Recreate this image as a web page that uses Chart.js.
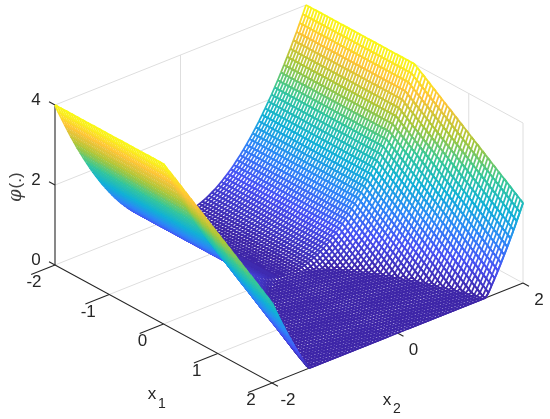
<!DOCTYPE html>
<html><head><meta charset="utf-8">
<style>html,body{margin:0;padding:0;background:#fff}canvas{display:block}</style>
<script src="https://cdn.jsdelivr.net/npm/chart.js@4"></script>
</head><body><canvas id="c" width="550" height="419"></canvas>
<script>
// grid positions (non-negative half, mirrored for the negative side)
const gridHalf=[0,.05,.1,.15,.2,.25,.3,.35,.4,.45,.5,.55,.6,.65,.7,.75,.8,.85,.9,.95,1,1.05,1.1,1.15,1.2,1.25,1.3,1.35,1.4,1.45,1.5,1.55,1.6,1.65,1.7,1.75,1.8,1.85,1.9,1.95,2];
const x1Ticks=[-2,-1,0,1,2], x2Ticks=[-2,0,2], zTicks=[0,2,4];
const x1TickLabels=["-2","-1","0","1","2"], x2TickLabels=["-2","0","2"], zTickLabels=["0","2","4"];
// phi: one row per x1 >= 0 (x1 <= 0 repeats the first row), columns |x2| = 0..2
const z00=[0,0,.01,.02,.04,.06,.09,.12,.16,.2,.25,.3,.36,.42,.49,.56,.64,.72,.81,.9,1,1.1,1.21,1.32,1.44,1.56,1.69,1.82,1.96,2.1,2.25,2.4,2.56,2.72,2.89,3.06,3.24,3.42,3.61,3.8,4];
const z01=[0,0,0,0,0,.01,.04,.07,.11,.15,.2,.25,.31,.37,.44,.51,.59,.67,.76,.85,.95,1.05,1.16,1.27,1.39,1.51,1.64,1.77,1.91,2.05,2.2,2.35,2.51,2.67,2.84,3.01,3.19,3.37,3.56,3.75,3.95];
const z02=[0,0,0,0,0,0,0,.02,.06,.1,.15,.2,.26,.32,.39,.46,.54,.62,.71,.8,.9,1,1.11,1.22,1.34,1.46,1.59,1.72,1.86,2,2.15,2.3,2.46,2.62,2.79,2.96,3.14,3.32,3.51,3.7,3.9];
const z03=[0,0,0,0,0,0,0,0,.01,.05,.1,.15,.21,.27,.34,.41,.49,.57,.66,.75,.85,.95,1.06,1.17,1.29,1.41,1.54,1.67,1.81,1.95,2.1,2.25,2.41,2.57,2.74,2.91,3.09,3.27,3.46,3.65,3.85];
const z04=[0,0,0,0,0,0,0,0,0,0,.05,.1,.16,.22,.29,.36,.44,.52,.61,.7,.8,.9,1.01,1.12,1.24,1.36,1.49,1.62,1.76,1.9,2.05,2.2,2.36,2.52,2.69,2.86,3.04,3.22,3.41,3.6,3.8];
const z05=[0,0,0,0,0,0,0,0,0,0,0,.05,.11,.17,.24,.31,.39,.47,.56,.65,.75,.85,.96,1.07,1.19,1.31,1.44,1.57,1.71,1.85,2,2.15,2.31,2.47,2.64,2.81,2.99,3.17,3.36,3.55,3.75];
const z06=[0,0,0,0,0,0,0,0,0,0,0,0,.06,.12,.19,.26,.34,.42,.51,.6,.7,.8,.91,1.02,1.14,1.26,1.39,1.52,1.66,1.8,1.95,2.1,2.26,2.42,2.59,2.76,2.94,3.12,3.31,3.5,3.7];
const z07=[0,0,0,0,0,0,0,0,0,0,0,0,.01,.07,.14,.21,.29,.37,.46,.55,.65,.75,.86,.97,1.09,1.21,1.34,1.47,1.61,1.75,1.9,2.05,2.21,2.37,2.54,2.71,2.89,3.07,3.26,3.45,3.65];
const z08=[0,0,0,0,0,0,0,0,0,0,0,0,0,.02,.09,.16,.24,.32,.41,.5,.6,.7,.81,.92,1.04,1.16,1.29,1.42,1.56,1.7,1.85,2,2.16,2.32,2.49,2.66,2.84,3.02,3.21,3.4,3.6];
const z09=[0,0,0,0,0,0,0,0,0,0,0,0,0,0,.04,.11,.19,.27,.36,.45,.55,.65,.76,.87,.99,1.11,1.24,1.37,1.51,1.65,1.8,1.95,2.11,2.27,2.44,2.61,2.79,2.97,3.16,3.35,3.55];
const z10=[0,0,0,0,0,0,0,0,0,0,0,0,0,0,0,.06,.14,.22,.31,.4,.5,.6,.71,.82,.94,1.06,1.19,1.32,1.46,1.6,1.75,1.9,2.06,2.22,2.39,2.56,2.74,2.92,3.11,3.3,3.5];
const z11=[0,0,0,0,0,0,0,0,0,0,0,0,0,0,0,.01,.09,.17,.26,.35,.45,.55,.66,.77,.89,1.01,1.14,1.27,1.41,1.55,1.7,1.85,2.01,2.17,2.34,2.51,2.69,2.87,3.06,3.25,3.45];
const z12=[0,0,0,0,0,0,0,0,0,0,0,0,0,0,0,0,.04,.12,.21,.3,.4,.5,.61,.72,.84,.96,1.09,1.22,1.36,1.5,1.65,1.8,1.96,2.12,2.29,2.46,2.64,2.82,3.01,3.2,3.4];
const z13=[0,0,0,0,0,0,0,0,0,0,0,0,0,0,0,0,0,.07,.16,.25,.35,.45,.56,.67,.79,.91,1.04,1.17,1.31,1.45,1.6,1.75,1.91,2.07,2.24,2.41,2.59,2.77,2.96,3.15,3.35];
const z14=[0,0,0,0,0,0,0,0,0,0,0,0,0,0,0,0,0,.02,.11,.2,.3,.4,.51,.62,.74,.86,.99,1.12,1.26,1.4,1.55,1.7,1.86,2.02,2.19,2.36,2.54,2.72,2.91,3.1,3.3];
const z15=[0,0,0,0,0,0,0,0,0,0,0,0,0,0,0,0,0,0,.06,.15,.25,.35,.46,.57,.69,.81,.94,1.07,1.21,1.35,1.5,1.65,1.81,1.97,2.14,2.31,2.49,2.67,2.86,3.05,3.25];
const z16=[0,0,0,0,0,0,0,0,0,0,0,0,0,0,0,0,0,0,.01,.1,.2,.3,.41,.52,.64,.76,.89,1.02,1.16,1.3,1.45,1.6,1.76,1.92,2.09,2.26,2.44,2.62,2.81,3,3.2];
const z17=[0,0,0,0,0,0,0,0,0,0,0,0,0,0,0,0,0,0,0,.05,.15,.25,.36,.47,.59,.71,.84,.97,1.11,1.25,1.4,1.55,1.71,1.87,2.04,2.21,2.39,2.57,2.76,2.95,3.15];
const z18=[0,0,0,0,0,0,0,0,0,0,0,0,0,0,0,0,0,0,0,0,.1,.2,.31,.42,.54,.66,.79,.92,1.06,1.2,1.35,1.5,1.66,1.82,1.99,2.16,2.34,2.52,2.71,2.9,3.1];
const z19=[0,0,0,0,0,0,0,0,0,0,0,0,0,0,0,0,0,0,0,0,.05,.15,.26,.37,.49,.61,.74,.87,1.01,1.15,1.3,1.45,1.61,1.77,1.94,2.11,2.29,2.47,2.66,2.85,3.05];
const z20=[0,0,0,0,0,0,0,0,0,0,0,0,0,0,0,0,0,0,0,0,0,.1,.21,.32,.44,.56,.69,.82,.96,1.1,1.25,1.4,1.56,1.72,1.89,2.06,2.24,2.42,2.61,2.8,3];
const z21=[0,0,0,0,0,0,0,0,0,0,0,0,0,0,0,0,0,0,0,0,0,.05,.16,.27,.39,.51,.64,.77,.91,1.05,1.2,1.35,1.51,1.67,1.84,2.01,2.19,2.37,2.56,2.75,2.95];
const z22=[0,0,0,0,0,0,0,0,0,0,0,0,0,0,0,0,0,0,0,0,0,0,.11,.22,.34,.46,.59,.72,.86,1,1.15,1.3,1.46,1.62,1.79,1.96,2.14,2.32,2.51,2.7,2.9];
const z23=[0,0,0,0,0,0,0,0,0,0,0,0,0,0,0,0,0,0,0,0,0,0,.06,.17,.29,.41,.54,.67,.81,.95,1.1,1.25,1.41,1.57,1.74,1.91,2.09,2.27,2.46,2.65,2.85];
const z24=[0,0,0,0,0,0,0,0,0,0,0,0,0,0,0,0,0,0,0,0,0,0,.01,.12,.24,.36,.49,.62,.76,.9,1.05,1.2,1.36,1.52,1.69,1.86,2.04,2.22,2.41,2.6,2.8];
const z25=[0,0,0,0,0,0,0,0,0,0,0,0,0,0,0,0,0,0,0,0,0,0,0,.07,.19,.31,.44,.57,.71,.85,1,1.15,1.31,1.47,1.64,1.81,1.99,2.17,2.36,2.55,2.75];
const z26=[0,0,0,0,0,0,0,0,0,0,0,0,0,0,0,0,0,0,0,0,0,0,0,.02,.14,.26,.39,.52,.66,.8,.95,1.1,1.26,1.42,1.59,1.76,1.94,2.12,2.31,2.5,2.7];
const z27=[0,0,0,0,0,0,0,0,0,0,0,0,0,0,0,0,0,0,0,0,0,0,0,0,.09,.21,.34,.47,.61,.75,.9,1.05,1.21,1.37,1.54,1.71,1.89,2.07,2.26,2.45,2.65];
const z28=[0,0,0,0,0,0,0,0,0,0,0,0,0,0,0,0,0,0,0,0,0,0,0,0,.04,.16,.29,.42,.56,.7,.85,1,1.16,1.32,1.49,1.66,1.84,2.02,2.21,2.4,2.6];
const z29=[0,0,0,0,0,0,0,0,0,0,0,0,0,0,0,0,0,0,0,0,0,0,0,0,0,.11,.24,.37,.51,.65,.8,.95,1.11,1.27,1.44,1.61,1.79,1.97,2.16,2.35,2.55];
const z30=[0,0,0,0,0,0,0,0,0,0,0,0,0,0,0,0,0,0,0,0,0,0,0,0,0,.06,.19,.32,.46,.6,.75,.9,1.06,1.22,1.39,1.56,1.74,1.92,2.11,2.3,2.5];
const z31=[0,0,0,0,0,0,0,0,0,0,0,0,0,0,0,0,0,0,0,0,0,0,0,0,0,.01,.14,.27,.41,.55,.7,.85,1.01,1.17,1.34,1.51,1.69,1.87,2.06,2.25,2.45];
const z32=[0,0,0,0,0,0,0,0,0,0,0,0,0,0,0,0,0,0,0,0,0,0,0,0,0,0,.09,.22,.36,.5,.65,.8,.96,1.12,1.29,1.46,1.64,1.82,2.01,2.2,2.4];
const z33=[0,0,0,0,0,0,0,0,0,0,0,0,0,0,0,0,0,0,0,0,0,0,0,0,0,0,.04,.17,.31,.45,.6,.75,.91,1.07,1.24,1.41,1.59,1.77,1.96,2.15,2.35];
const z34=[0,0,0,0,0,0,0,0,0,0,0,0,0,0,0,0,0,0,0,0,0,0,0,0,0,0,0,.12,.26,.4,.55,.7,.86,1.02,1.19,1.36,1.54,1.72,1.91,2.1,2.3];
const z35=[0,0,0,0,0,0,0,0,0,0,0,0,0,0,0,0,0,0,0,0,0,0,0,0,0,0,0,.07,.21,.35,.5,.65,.81,.97,1.14,1.31,1.49,1.67,1.86,2.05,2.25];
const z36=[0,0,0,0,0,0,0,0,0,0,0,0,0,0,0,0,0,0,0,0,0,0,0,0,0,0,0,.02,.16,.3,.45,.6,.76,.92,1.09,1.26,1.44,1.62,1.81,2,2.2];
const z37=[0,0,0,0,0,0,0,0,0,0,0,0,0,0,0,0,0,0,0,0,0,0,0,0,0,0,0,0,.11,.25,.4,.55,.71,.87,1.04,1.21,1.39,1.57,1.76,1.95,2.15];
const z38=[0,0,0,0,0,0,0,0,0,0,0,0,0,0,0,0,0,0,0,0,0,0,0,0,0,0,0,0,.06,.2,.35,.5,.66,.82,.99,1.16,1.34,1.52,1.71,1.9,2.1];
const z39=[0,0,0,0,0,0,0,0,0,0,0,0,0,0,0,0,0,0,0,0,0,0,0,0,0,0,0,0,.01,.15,.3,.45,.61,.77,.94,1.11,1.29,1.47,1.66,1.85,2.05];
const z40=[0,0,0,0,0,0,0,0,0,0,0,0,0,0,0,0,0,0,0,0,0,0,0,0,0,0,0,0,0,.1,.25,.4,.56,.72,.89,1.06,1.24,1.42,1.61,1.8,2];
const zRows=[z00,z01,z02,z03,z04,z05,z06,z07,z08,z09,z10,z11,z12,z13,z14,z15,z16,z17,z18,z19,z20,z21,z22,z23,z24,z25,z26,z27,z28,z29,z30,z31,z32,z33,z34,z35,z36,z37,z38,z39,z40];

// view: orthographic projection of (x1,x2,z) onto the page
function P(x1,x2,z){return {x:289+54.25*x1+62.75*x2, y:274+29.5*x1-25*x2-40*z, z:z};}

// parula colour map
const parula=[[62,38,168],[72,82,244],[46,135,247],[18,177,214],[55,200,151],[171,199,57],[254,195,56],[249,251,21]];
const palette=[];
for(let i=0;i<64;i++){const t=i/63*7,a=Math.min(6,Math.floor(t)),f=t-a;
  palette.push('rgb('+parula[a].map((c,k)=>Math.round(c+(parula[a+1][k]-c)*f)).join(',')+')');}
const zColor=z=>palette[Math.max(0,Math.min(63,Math.round(z/4*63)))];

// full mesh nodes
const N=81;
const sgn=i=>i<40?-gridHalf[40-i]:gridHalf[i-40];
const node=(i,j)=>P(sgn(i),sgn(j),zRows[Math.max(0,i-40)][Math.abs(j-40)]);

const seq=[];
const GRID='#dedede',AXIS='#262626';
function seg(pts,color,w){seq.push({data:pts,showLine:true,borderColor:color,borderWidth:w,pointRadius:0,fill:false,borderDash:[100000],borderCapStyle:'butt'});}
// back walls and floor grid
seg([P(-2,-2,4),P(-2,2,4),P(2,2,4),P(2,2,0)],GRID,1);
seg([P(-2,2,4),P(-2,2,0)],GRID,1);
seg([P(-2,-2,0),P(-2,2,0),P(2,2,0)],GRID,1);
seg([P(-2,-2,2),P(-2,2,2),P(2,2,2)],GRID,1);
x2Ticks.slice(1,2).forEach(t=>{seg([P(-2,t,4),P(-2,t,0),P(2,t,0)],GRID,1);});
x1Ticks.slice(1,4).forEach(t=>{seg([P(t,2,4),P(t,2,0),P(t,-2,0)],GRID,1);});
// axes and ticks
seg([P(-2,-2,4),P(-2,-2,0)],AXIS,1.1);
seg([P(-2,-2,0),P(2,-2,0),P(2,2,0)],AXIS,1.1);
x1Ticks.forEach(t=>seg([P(t,-2,0),P(t,-2.38,0)],AXIS,1.1));
x2Ticks.forEach(t=>seg([P(2,t,0),P(2.11,t,0)],AXIS,1.1));
zTicks.forEach(t=>seg([P(-2,-2,t),P(-2.11,-2,t)],AXIS,1.1));
// mesh strips, far side (x2=2) to near side (x2=-2)
for(let j=N-2;j>=0;j--){
  const poly=[];
  for(let i=0;i<N;i++)poly.push(node(i,j));
  for(let i=N-1;i>=0;i--)poly.push(node(i,j+1));
  seq.push({data:poly,showLine:true,borderWidth:0,pointRadius:0,backgroundColor:'#fff',fill:'shape',borderDash:[100000]});
  const path=[];
  for(let i=0;i<N;i++)path.push(node(i,j));
  for(let i=N-1;i>=0;i--)path.push(node(i,j+1));
  for(let i=0;i<N;i++){
    if(i%2===0){path.push(node(i,j+1));path.push(node(i,j));}
    else{path.push(node(i,j));path.push(node(i,j+1));}
  }
  seq.push({data:path,showLine:true,borderWidth:1.8,pointRadius:0,fill:false,borderColor:palette[0],borderDash:[100000],borderJoinStyle:'bevel',
    segment:{borderColor:c=>{const d=c.chart.data.datasets[c.datasetIndex].data;return zColor((d[c.p0DataIndex].z+d[c.p1DataIndex].z)/2);}}});
}
// Chart.js paints high "order" first
seq.forEach((d,k)=>{d.order=seq.length-k;d.parsing=false;});

const labels={id:'labels3d',afterDatasetsDraw(ch){
  const c=ch.ctx,sx=ch.scales.x,sy=ch.scales.y;
  const put=(t,px,py,font)=>{c.font=font;c.fillText(t,sx.getPixelForValue(px),sy.getPixelForValue(py));};
  c.save();c.textAlign='center';c.textBaseline='middle';c.fillStyle='#262626';
  const F='17px "Liberation Sans"',S='14px "Liberation Sans"';
  x1Ticks.forEach((t,k)=>{const p=P(t,-2,0);put(x1TickLabels[k],p.x-21,p.y+17.5,F);});
  x2Ticks.forEach((t,k)=>{const p=P(2,t,0);put(x2TickLabels[k],p.x+16,p.y+17,F);});
  zTicks.forEach((t,k)=>{const p=P(-2,-2,t);put(zTickLabels[k],p.x-19,p.y-4.5,F);});
  put('x',152,394,F);put('1',162,404,S);
  put('x',387,400,F);put('2',397,409,S);
  c.translate(sx.getPixelForValue(16),sy.getPixelForValue(187));c.rotate(-Math.PI/2);
  c.textAlign='left';c.fillStyle='#404040';
  c.font='italic 18px "DejaVu Serif"';c.fillText('\u03C6',-15,0);
  const w=c.measureText('\u03C6').width;
  c.font='17px "Liberation Sans"';c.fillText('(.)',-15+w+1,0);
  c.restore();
}};

new Chart(document.getElementById('c'),{
  type:'scatter',
  data:{datasets:seq},
  plugins:[labels],
  options:{responsive:false,animation:false,events:[],layout:{padding:0},
    plugins:{legend:{display:false},tooltip:{enabled:false},title:{display:false}},
    scales:{x:{type:'linear',min:0,max:550,display:false},y:{type:'linear',min:0,max:419,reverse:true,display:false}}}
});
</script></body></html>
